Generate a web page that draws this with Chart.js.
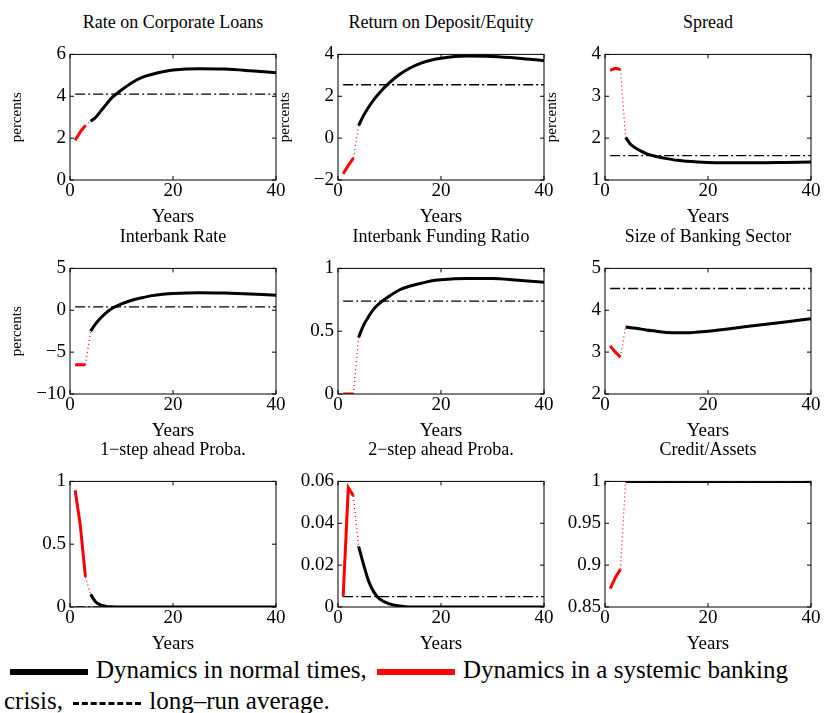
<!DOCTYPE html>
<html>
<head>
<meta charset="utf-8">
<script src="https://cdn.jsdelivr.net/npm/chart.js@4/dist/chart.umd.min.js"></script>
<style>
body { margin:0; background:#fff; font-family:"Liberation Serif","DejaVu Serif",serif; width:830px; height:713px; position:relative; overflow:hidden; }
.panel { position:absolute; }
.ttl { position:absolute; font-size:18px; text-align:center; width:260px; }
.leg { position:absolute; left:4px; font-size:25px; line-height:31px; white-space:nowrap; }
.sw { display:inline-block; width:78px; height:0; vertical-align:middle; margin:0 8px 0 4px; }
</style>
</head>
<body>
<div class="leg" style="top:654px;"><span class="sw" style="border-top:6px solid #000;margin-left:6px"></span>Dynamics in normal times, <span class="sw" style="border-top:6px solid #f00"></span>Dynamics in a systemic banking<br>crisis, <span class="sw" style="border-top:3px dashed #000;width:68px"></span>long–run average.</div>
<script>
const SERIF = '"Liberation Serif", "DejaVu Serif", serif';

// panel titles
const titles = ['Rate on Corporate Loans', 'Return on Deposit/Equity', 'Spread',
  'Interbank Rate', 'Interbank Funding Ratio', 'Size of Banking Sector',
  '1−step ahead Proba.', '2−step ahead Proba.', 'Credit/Assets'];
const showPercents = [true, true, true, true, false, false, false, false, false];

// y axis ranges and tick step
const yMin = [0, -2, 1, -10, 0, 2, 0, 0, 0.85];
const yMax = [6, 4, 4, 5, 1, 5, 1, 0.06, 1];
const yStep = [2, 2, 1, 5, 0.5, 1, 0.5, 0.02, 0.05];

// crisis years (red) and values
const crisisYears = [1, 2, 3];
const crisis = [
  [1.9, 2.3, 2.6], [-1.7, -1.3, -0.95], [3.62, 3.67, 3.64],
  [-6.5, -6.5, -6.5], [0, 0, 0], [3.15, 3.0, 2.88],
  [0.93, 0.65, 0.24], [0.005, 0.057, 0.053], [0.872, 0.885, 0.895]
];

// normal-times years (black) and values
const normalYears = [4, 5, 6, 7, 8, 10, 12, 14, 16, 18, 20, 25, 30, 35, 40];
const normal = [
  [2.8, 3.0, 3.3, 3.6, 3.9, 4.3, 4.65, 4.9, 5.05, 5.17, 5.25, 5.32, 5.3, 5.22, 5.12],
  [0.6, 1.1, 1.5, 1.85, 2.15, 2.65, 3.05, 3.35, 3.57, 3.72, 3.82, 3.92, 3.9, 3.82, 3.7],
  [2.02, 1.85, 1.76, 1.69, 1.63, 1.56, 1.51, 1.47, 1.45, 1.43, 1.42, 1.41, 1.41, 1.42, 1.43],
  [-2.5, -1.6, -0.9, -0.3, 0.15, 0.75, 1.2, 1.5, 1.75, 1.9, 2.0, 2.1, 2.05, 1.95, 1.8],
  [0.45, 0.55, 0.62, 0.68, 0.72, 0.78, 0.83, 0.86, 0.88, 0.9, 0.91, 0.92, 0.92, 0.905, 0.89],
  [3.6, 3.58, 3.57, 3.55, 3.53, 3.5, 3.47, 3.46, 3.46, 3.48, 3.5, 3.57, 3.65, 3.72, 3.8],
  [0.1, 0.04, 0.015, 0.005, 0.002, 0, 0, 0, 0, 0, 0, 0, 0, 0, 0],
  [0.029, 0.02, 0.012, 0.007, 0.004, 0.0015, 0.0005, 0, 0, 0, 0, 0, 0, 0, 0],
  [1, 1, 1, 1, 1, 1, 1, 1, 1, 1, 1, 1, 1, 1, 1]
];

// long-run averages
const longRun = [4.1, 2.55, 1.58, 0.4, 0.74, 4.52, 0, 0.005, 1];

const plotLefts = [70, 338, 605];
const plotTops = [47, 261, 474];
const plotW = 206, plotH = 133;
const yAxisW = 62, padTop = 8, xAxisH = 48;

const frame = {
  id: 'frame',
  afterDraw(chart) {
    const c = chart.ctx, a = chart.chartArea;
    c.save();
    c.strokeStyle = '#000'; c.lineWidth = 1;
    c.strokeRect(a.left, a.top, a.right - a.left, a.bottom - a.top);
    const ys = chart.scales.y, xs = chart.scales.x;
    ys.ticks.forEach(t => {
      const p = ys.getPixelForValue(t.value);
      c.beginPath(); c.moveTo(a.left, p); c.lineTo(a.left + 4, p);
      c.moveTo(a.right, p); c.lineTo(a.right - 4, p); c.stroke();
    });
    xs.ticks.forEach(t => {
      const p = xs.getPixelForValue(t.value);
      c.beginPath(); c.moveTo(p, a.bottom); c.lineTo(p, a.bottom - 4);
      c.moveTo(p, a.top); c.lineTo(p, a.top + 4); c.stroke();
    });
    c.restore();
  }
};

const pts = (xs, ys) => xs.map((x, i) => ({x: x, y: ys[i]}));

for (let i = 0; i < 9; i++) {
  const col = i % 3, row = Math.floor(i / 3);
  const left = plotLefts[col] - yAxisW, top = plotTops[row] - padTop;
  const w = yAxisW + plotW + 12, h = padTop + plotH + xAxisH;

  const t = document.createElement('div');
  t.className = 'ttl';
  t.textContent = titles[i];
  t.style.left = (plotLefts[col] + plotW / 2 - 130) + 'px';
  t.style.top = (plotTops[row] - 35) + 'px';
  document.body.appendChild(t);

  const box = document.createElement('div');
  box.className = 'panel';
  box.style.cssText = `left:${left}px;top:${top}px;width:${w}px;height:${h}px`;
  const cv = document.createElement('canvas');
  box.appendChild(cv);
  document.body.appendChild(box);

  const last = crisis[i].length - 1;
  new Chart(cv, {
    type: 'line',
    data: {
      datasets: [
        { data: [{x: 1, y: longRun[i]}, {x: 40, y: longRun[i]}], borderColor: '#000', borderWidth: 1.3, borderDash: [10, 3, 2, 3] },
        { data: pts(crisisYears, crisis[i]), borderColor: '#f00', borderWidth: 3 },
        { data: [{x: crisisYears[last], y: crisis[i][last]}, {x: normalYears[0], y: normal[i][0]}], borderColor: '#f00', borderWidth: 1.2, borderDash: [1, 3] },
        { data: pts(normalYears, normal[i]), borderColor: '#000', borderWidth: 3, cubicInterpolationMode: 'monotone' }
      ]
    },
    options: {
      responsive: true, maintainAspectRatio: false, animation: false,
      layout: { padding: { top: padTop, right: 12, left: 0, bottom: 0 } },
      elements: { point: { radius: 0 } },
      plugins: { legend: { display: false }, tooltip: { enabled: false } },
      scales: {
        x: {
          type: 'linear', min: 0, max: 40,
          ticks: { stepSize: 20, color: '#000', font: { family: SERIF, size: 19 }, padding: 0, maxRotation: 0 },
          grid: { display: false, drawTicks: false }, border: { display: false },
          title: { display: true, text: 'Years', color: '#000', font: { family: SERIF, size: 19 }, padding: 0 },
          afterFit(s) { s.height = xAxisH; }
        },
        y: {
          min: yMin[i], max: yMax[i],
          ticks: { stepSize: yStep[i], color: '#000', font: { family: SERIF, size: 19 }, padding: 4,
            callback: v => String(+v.toFixed(3)).replace('-', '−') },
          grid: { display: false, drawTicks: false }, border: { display: false },
          title: { display: showPercents[i], text: 'percents', color: '#000', font: { family: SERIF, size: 15 }, padding: 0 },
          afterFit(s) { s.width = yAxisW; }
        }
      }
    },
    plugins: [frame]
  });
}
</script>
</body>
</html>
